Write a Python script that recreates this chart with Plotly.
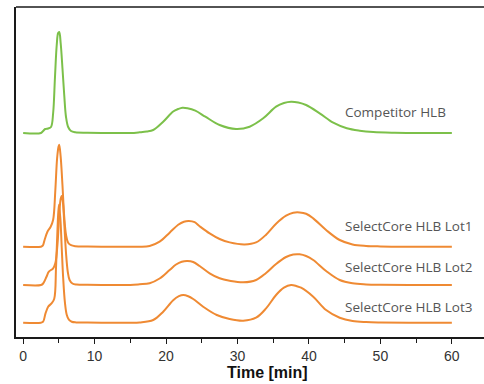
import plotly.graph_objects as go

# ---- data (time [min], signal above baseline) ----
names = ["Competitor HLB", "SelectCore HLB Lot1", "SelectCore HLB Lot2", "SelectCore HLB Lot3"]

t_comp = [0, 2.5, 2.8, 3.1, 3.5, 3.9, 4.2, 4.45, 4.7, 4.9, 5.05, 5.25, 5.5, 5.75, 6.0, 6.3, 6.7, 7.3, 9,
          12, 15, 16.3, 17.3, 18.2, 19.6, 21.0, 21.7, 22.3, 23.0, 24.1, 25.5, 27.5, 29.8, 31.7, 33.6, 35.4,
          36.5, 37.5, 38.5, 39.6, 41.5, 43.4, 45.3, 47.1, 49, 52, 56, 60]
y_comp = [0, 0, 2, 4, 4.5, 6, 20, 55, 88, 100, 101, 90, 65, 38, 16, 6, 2, 0.7, 0.3,
          0, 0, 0.7, 1.5, 3, 11.3, 21.5, 24, 25.3, 24.8, 22.3, 16.3, 8, 4, 6.3, 14.7, 26.3,
          30, 31.3, 30.5, 28, 19.7, 10.3, 4.7, 2.3, 1, 0.3, 0, 0]

t_lot1 = [0, 2.5, 2.75, 3.0, 3.4, 3.85, 4.2, 4.5, 4.75, 4.95, 5.05, 5.25, 5.5, 5.75, 6.0, 6.3, 6.7, 7.3,
          9, 12, 15, 16.3, 17.7, 19.1, 20.5, 21.7, 22.5, 23.2, 24.0, 24.7, 26.1, 27.5, 28.9, 31.0, 32.6,
          34.0, 35.4, 36.8, 37.8, 38.7, 39.6, 40.6, 42.4, 44.3, 46.1, 48, 50, 54, 60]
y_lot1 = [0, 0, 1, 6.7, 15, 20, 27, 56, 88, 100, 102, 90, 62, 30, 12, 4, 1.5, 0.5,
          0.2, 0, 0, 0, 0.7, 5, 14, 22, 25, 25.7, 24.5, 20.5, 13.3, 7.7, 4.3, 2.3, 4.3,
          12, 23, 31, 34, 34.3, 33, 28.3, 16.7, 6.7, 2.3, 0.8, 0.3, 0, 0]

t_lot2 = [0, 2.5, 2.8, 3.27, 3.6, 4.2, 4.5, 4.8, 5.05, 5.25, 5.4, 5.55, 5.75, 6.0, 6.25, 6.5, 6.9, 7.5,
          9, 12, 15, 16.3, 17.7, 19.1, 20.5, 21.4, 22.2, 23.0, 23.8, 24.7, 26.1, 27.5, 28.9, 30.8, 32.6,
          34.0, 35.4, 36.8, 37.8, 38.7, 39.6, 40.6, 42.4, 44.3, 46.1, 48, 50, 54, 60]
y_lot2 = [0, 0, 1.5, 8.3, 13.3, 16.7, 21.7, 40, 70, 86, 89, 84, 62, 32, 13, 5, 1.5, 0.5,
          0.2, 0, 0, 0.7, 1.8, 6.5, 15, 20.5, 23.3, 24, 23, 19, 11.7, 6.7, 4.3, 2.7, 5,
          12, 21, 28, 30.5, 30.7, 29, 25, 14, 5, 1.7, 0.6, 0.2, 0, 0]

t_lot3 = [0, 2.5, 2.8, 3.13, 3.5, 3.97, 4.35, 4.6, 4.8, 5.0, 5.2, 5.4, 5.6, 5.85, 6.1, 6.4, 6.8, 7.4,
          9, 12, 15, 16.3, 18.2, 19.6, 21.0, 21.8, 22.4, 23.1, 23.8, 25.2, 27.1, 28.9, 30.8, 32.6, 34.0,
          35.4, 36.5, 37.5, 38.3, 38.9, 40.6, 42.4, 44.3, 46.1, 48, 50, 54, 60]
y_lot3 = [0, 0, 1, 9.3, 16, 19.3, 24, 55, 92, 118, 105, 75, 45, 20, 8, 3, 1, 0.3,
          0.1, 0, 0, 0.3, 2.7, 11, 22.5, 26.5, 27.7, 26.5, 23.7, 16, 7.7, 3.7, 2, 5, 14.3,
          27.7, 35, 37.7, 36.5, 35, 26, 12.7, 5, 1.7, 0.6, 0.2, 0, 0]

# vertical stacking offsets of the traces
offsets = [204, 90.3, 52, 14.3]

x_tick_vals = [0, 10, 20, 30, 40, 50, 60]
x_title = "Time [min]"

colors = ["#7cc04a", "#ef8a33", "#ef8a33", "#ef8a33"]
times = [t_comp, t_lot1, t_lot2, t_lot3]
signals = [y_comp, y_lot1, y_lot2, y_lot3]
label_y = [225, 111, 70, 30.5]

fig = go.Figure()
for name, t, s, off, c in zip(names, times, signals, offsets, colors):
    fig.add_trace(go.Scatter(
        x=t, y=[v + off for v in s], mode="lines", name=name,
        line=dict(color=c, width=2, shape="spline", smoothing=1.0),
        showlegend=False, hoverinfo="skip"))

for name, ly in zip(names, label_y):
    fig.add_annotation(x=44.8, y=ly, xref="x", yref="y", text=name, showarrow=False,
                       xanchor="left", yanchor="middle",
                       font=dict(family="Open Sans", size=13.5, color="#555555"))

fig.add_annotation(x=34.2, y=-0.109, xref="x", yref="paper", text="<b>" + x_title + "</b>",
                   showarrow=False, xanchor="center", yanchor="middle",
                   font=dict(family="Liberation Sans, Arial", size=16, color="#111111"))

fig.add_shape(type="line", xref="paper", yref="paper", x0=0, x1=1, y0=1, y1=1,
              line=dict(color="#1a1a1a", width=1.5))

fig.update_xaxes(range=[-1, 64.5], showline=True, linecolor="#1a1a1a", linewidth=1.5,
                 ticks="outside", ticklen=5, tickwidth=1, tickcolor="#1a1a1a",
                 tickvals=x_tick_vals, showgrid=False, zeroline=False,
                 tickfont=dict(family="Liberation Sans, Arial", size=14, color="#333333"),
                 minor=dict(dtick=5, tick0=0, ticks="outside", ticklen=4, tickcolor="#1a1a1a",
                            showgrid=False))
fig.update_yaxes(range=[0, 330], showline=True, linecolor="#1a1a1a", linewidth=1.5,
                 showticklabels=False, ticks="", showgrid=False, zeroline=False)

fig.update_layout(width=484, height=384, margin=dict(l=16, r=0, t=7, b=47, autoexpand=False),
                  plot_bgcolor="white", paper_bgcolor="white")

fig.write_html("out.html", config={"displayModeBar": False},
               post_script="document.body.style.margin='0';document.body.style.overflow='hidden';")
